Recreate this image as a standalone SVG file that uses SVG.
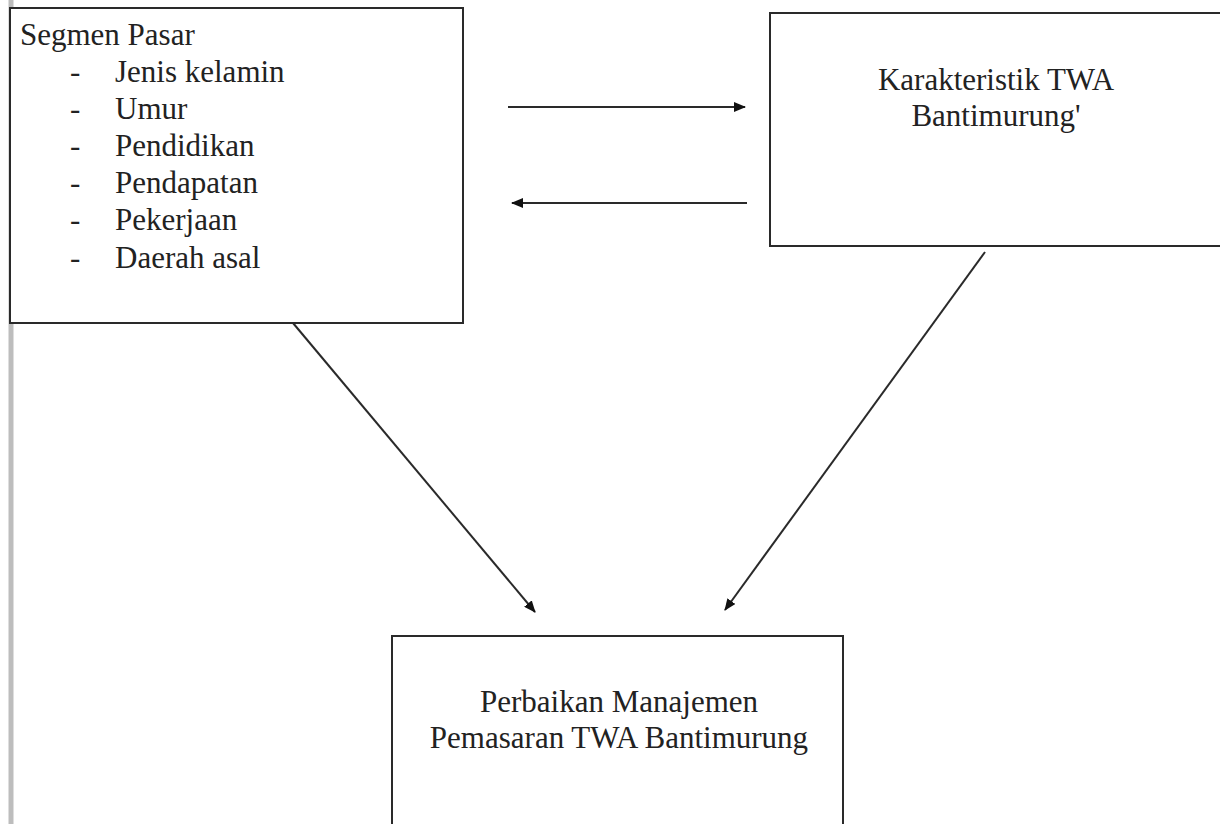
<svg xmlns="http://www.w3.org/2000/svg" width="1220" height="824" viewBox="0 0 1220 824">
<defs>
<style>
.box{fill:#fff;stroke:#2a2a2a;stroke-width:2}
.t{font-family:"Liberation Serif","Times New Roman",serif;font-size:31px;fill:#222}
.c{stroke:#2a2a2a;stroke-width:2;fill:none;marker-end:url(#ah)}
</style>
<marker id="ah" viewBox="0 0 12 10" refX="11" refY="5" markerWidth="12" markerHeight="10" markerUnits="userSpaceOnUse" orient="auto">
<path d="M0,0 L12,5 L0,10 Z" fill="#111"/>
</marker>
</defs>
<rect width="1220" height="824" fill="#fff"/>
<line x1="11" y1="0" x2="11" y2="824" stroke="#bdbdbd" stroke-width="5"/>
<g id="segmen-pasar">
<rect class="box" x="10" y="8" width="453" height="315"/>
<text class="t" x="20" y="45">Segmen Pasar</text>
<g class="t">
<text x="70" y="82">-</text><text x="115" y="82">Jenis kelamin</text>
<text x="70" y="119">-</text><text x="115" y="119">Umur</text>
<text x="70" y="156">-</text><text x="115" y="156">Pendidikan</text>
<text x="70" y="193">-</text><text x="115" y="193">Pendapatan</text>
<text x="70" y="230">-</text><text x="115" y="230">Pekerjaan</text>
<text x="70" y="268">-</text><text x="115" y="268">Daerah asal</text>
</g>
</g>
<g id="karakteristik">
<rect class="box" x="770" y="13" width="460" height="233"/>
<text class="t" x="996" y="90" text-anchor="middle">Karakteristik TWA</text>
<text class="t" x="996" y="126" text-anchor="middle">Bantimurung'</text>
</g>
<g id="perbaikan">
<rect class="box" x="392" y="636" width="451" height="200"/>
<text class="t" x="619" y="712" text-anchor="middle">Perbaikan Manajemen</text>
<text class="t" x="619" y="748" text-anchor="middle">Pemasaran TWA Bantimurung</text>
</g>
<g id="connectors">
<line class="c" x1="508" y1="107" x2="745" y2="107"/>
<line class="c" x1="747" y1="203" x2="512" y2="203"/>
<line class="c" x1="293" y1="323" x2="535" y2="612"/>
<line class="c" x1="985" y1="252" x2="725" y2="610"/>
</g>
</svg>
